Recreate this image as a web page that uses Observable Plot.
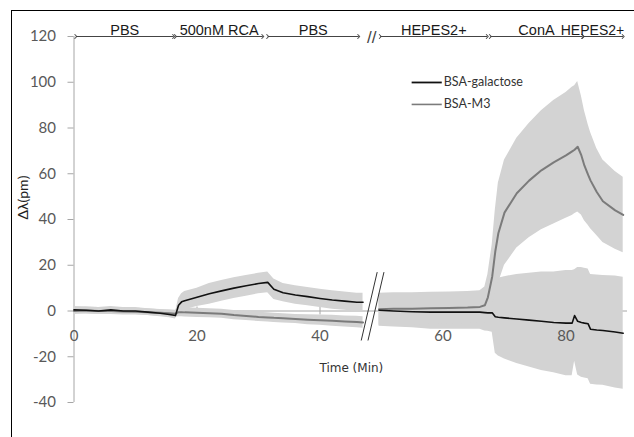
<!DOCTYPE html>
<html><head><meta charset="utf-8">
<script src="https://cdn.jsdelivr.net/npm/d3@7"></script>
<script src="https://cdn.jsdelivr.net/npm/@observablehq/plot@0.6"></script>
<style>
html,body{margin:0;padding:0;background:#fff;}
#wrap{position:relative;width:634px;height:437px;overflow:hidden;}
#frame{position:absolute;left:11px;top:10px;right:-5px;bottom:-5px;border-top:1.6px solid #000;border-left:1.6px solid #000;pointer-events:none;}
</style></head>
<body><div id="wrap"><div id="frame"></div></div>
<script>
// time (min); null row at 48 = axis break
const time = [0,2,4,6,8,10,12,14,15.5,16.5,17,17.5,18,20,22,24,26,28,30,31.5,32.5,34,36,38,40,42,44,46,47,
  48,
  49.6,52,55,58,61,64,66,66.8,67.3,68,68.5,69,70,72,74,76,78,80,81,81.4,81.9,82.5,83,83.6,84,85,86,88,89.3];
const galactose = [0.5,0.3,0,0.5,0,0,-0.5,-1,-1.5,-2,2.5,4,4.5,6,7.5,8.8,10,11,12,12.5,9.5,8,7,6.3,5.5,4.8,4.3,3.8,3.8,
  null,
  0.3,0,-0.3,-0.5,-0.5,-0.5,-0.5,-0.7,-0.8,-0.8,-2.5,-2.7,-3,-3.5,-4,-4.5,-5,-5.3,-5.3,-2,-4.5,-5,-5.3,-5.6,-8,-8.3,-8.5,-9.2,-9.7];
const galactoseSD = [1.5,1.5,1.5,1.5,1.5,1.5,1.5,1.5,1.5,1.5,3,3.5,4,4,4.5,4.5,4.5,4.5,4.5,4.5,4.5,4,4,4,4,4,4,4,4,
  null,
  7,7,7,7.5,7.5,7.5,7.5,8,8,8.5,16,17,18,19.5,20.5,21.5,22,23,23,20,23.5,24,24,24,24,24,24,24.5,24.5];
const m3 = [0,0.2,0,0,-0.2,-0.3,-0.5,-0.8,-1,-1.2,-0.5,-0.5,-0.6,-0.8,-1,-1.2,-1.8,-2.2,-2.6,-2.8,-3,-3.2,-3.5,-3.8,-4,-4.3,-4.6,-4.8,-5,
  null,
  0.8,1,1,1.2,1.3,1.5,1.8,2.5,6,15,26,34,43,51.5,57,61.5,65,68,69.8,70.5,71.8,68,63.5,59.5,57,52,48,44,42];
const m3SD = [1.5,1.5,1.5,1.5,1.5,1.5,1.5,1.5,1.5,1.5,2,2,2,2,2,2,2,2,2,2,2,2,2,2.2,2.2,2.4,2.4,2.5,2.5,
  null,
  7,7,7,7,7,7,7,8,10,14,18,22,23,24,25,26,27,27.5,28,28,28.5,26,24,22,21,19,18,17,16.5];

const seriesNames = ["BSA-galactose","BSA-M3"];
const seriesColors = ["#111111","#7b7b7b"];
const xTicks = [0,20,40,60,80];
const yTicks = [-40,-20,0,20,40,60,80,100,120];
const phaseNames = ["PBS","500nM RCA","PBS","HEPES2+","ConA","HEPES2+"];
const phaseStart = [0.3,16.5,31.5,49.8,67.7,82.8];
const phaseEnd   = [16.2,30.7,46.3,67.2,82.7,89.3];
const breakX = [48.4];              // "//" mark at top
const breakLines = [{x1:49.3,x2:46.7},{x1:50.4,x2:47.8}];  // slanted break strokes
const breakY = [17,-12.9];
const legendX = [54.9,59.8];
const legendY = [99.9,90.3];
const xLabel = {text:"Time (Min)", x:45.1, y:-25};
const yLabel = "Δλ(pm)";

const NaNify = v => v == null ? NaN : v;
const rows = time.map((t,i)=>({
  t,
  g: NaNify(galactose[i]),
  gLo: galactose[i]==null ? NaN : galactose[i]-galactoseSD[i],
  gHi: galactose[i]==null ? NaN : galactose[i]+galactoseSD[i],
  m: NaNify(m3[i]),
  mLo: m3[i]==null ? NaN : m3[i]-m3SD[i],
  mHi: m3[i]==null ? NaN : m3[i]+m3SD[i]
}));
const phases = phaseNames.map((name,i)=>({name, x1:phaseStart[i], x2:phaseEnd[i], mid:(phaseStart[i]+phaseEnd[i])/2, last: i===phaseNames.length-1}));
const legend = seriesNames.map((name,i)=>({name, color:seriesColors[i], y:legendY[i]}));

const tickFont = "Lato, 'Open Sans', sans-serif";
const axisGray = "#a6a6a6";
const arialFont = "'Liberation Sans', Arial, sans-serif";

const chart = Plot.plot({
  width: 634, height: 437,
  marginLeft: 73.5, marginRight: 7, marginTop: 36, marginBottom: 35,
  x: {domain:[0,90], axis:null},
  y: {domain:[-40,120], axis:null},
  style: {background:"transparent", overflow:"hidden"},
  marks: [
    // axes
    Plot.ruleY([0], {x1:0, x2:90, stroke:axisGray, strokeWidth:1}),
    Plot.ruleX([0], {y1:-40, y2:120, stroke:axisGray, strokeWidth:1}),
    Plot.ruleY(yTicks, {y:d=>d, x1:0, x2:0, insetLeft:-6, stroke:axisGray}),
    Plot.ruleX(xTicks.slice(1), {x:d=>d, y1:0, y2:0, insetTop:-4, insetBottom:-4, stroke:axisGray}),
    // bands
    Plot.areaY(rows, {x:"t", y1:"gLo", y2:"gHi", fill:"#d3d3d3", curve:"linear"}),
    Plot.areaY(rows, {x:"t", y1:"mLo", y2:"mHi", fill:"#d3d3d3", curve:"linear"}),
    // lines
    Plot.line(rows, {x:"t", y:"m", stroke:seriesColors[1], strokeWidth:2}),
    Plot.line(rows, {x:"t", y:"g", stroke:seriesColors[0], strokeWidth:1.6}),
    // tick labels
    Plot.text(yTicks, {y:d=>d, x:0, dx:-18, textAnchor:"end", text:d=>String(d), fontSize:15, fontFamily:tickFont, fill:"#595959"}),
    Plot.text(xTicks, {x:d=>d, y:0, dy:25.5, text:d=>String(d), fontSize:15, fontFamily:tickFont, fill:"#595959"}),
    // axis titles
    Plot.text([yLabel], {frameAnchor:"left", dx:-50.5, rotate:-90, text:d=>d, fontSize:14, fontFamily:tickFont, fill:"#222"}),
    Plot.text([xLabel], {x:"x", y:"y", text:"text", fontSize:12, fontFamily:"'DejaVu Sans', sans-serif", fill:"#333"}),
    // break marks
    Plot.link(breakLines, {x1:"x1", x2:"x2", y1:()=>breakY[0], y2:()=>breakY[1], stroke:"#333", strokeWidth:1}),
    // phase arrows
    Plot.link(phases, {x1:"x1", x2:"x2", y1:()=>120, y2:()=>120, stroke:"#444", strokeWidth:1, markerStart:"arrow", markerEnd:"arrow"}),
    Plot.text(phases.filter(p=>!p.last), {x:"mid", y:()=>120, dy:-2, lineAnchor:"bottom", text:"name", fontSize:14.5, fontFamily:arialFont, fill:"#1a1a1a"}),
    Plot.text(phases.filter(p=>p.last), {x:"x2", y:()=>120, dx:1, dy:-2, lineAnchor:"bottom", textAnchor:"end", text:"name", fontSize:14, fontFamily:arialFont, fill:"#1a1a1a"}),
    Plot.text(breakX, {x:d=>d, y:()=>120, dy:1, text:()=>"//", fontSize:17, fontFamily:arialFont, fill:"#444"}),
    // legend
    Plot.link(legend, {x1:()=>legendX[0], x2:()=>legendX[1], y1:"y", y2:"y", stroke:"color", strokeWidth:d=>d.name==="BSA-M3"?1.6:1.8}),
    Plot.text(legend, {x:()=>legendX[1], y:"y", dx:2, textAnchor:"start", text:"name", fontSize:12.5, fontFamily:tickFont, fill:"#333"})
  ]
});
chart.style.position = "absolute";
chart.style.left = "0px";
chart.style.top = "0px";
document.getElementById("wrap").prepend(chart);
</script>
</body></html>
